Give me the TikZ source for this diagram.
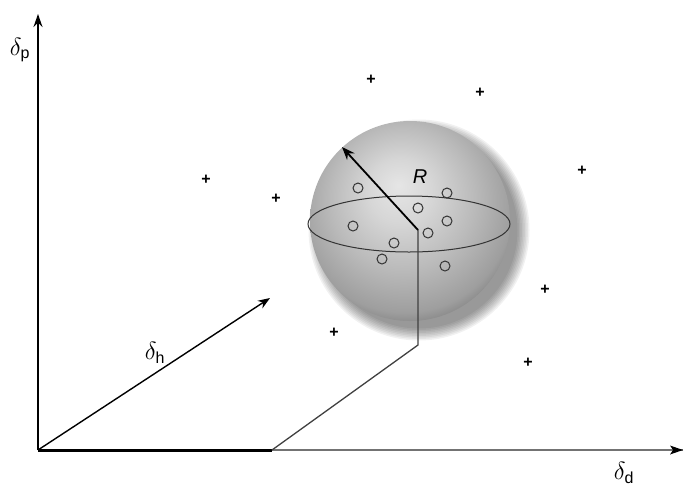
\documentclass[tikz,border=0pt]{standalone}
\usepackage{fontspec}
\usepackage{amsmath}
\newfontfamily\lsans{Liberation Sans}
\usetikzlibrary{arrows.meta}
\pgfdeclareradialshading{spherebw}{\pgfpoint{-3bp}{9bp}}{color(0bp)=(black!10); color(8bp)=(black!16); color(18bp)=(black!27); color(27bp)=(black!38); color(33bp)=(black!58); color(50bp)=(black!60)}
\tikzset{
  axis/.style={line width=1.5pt, -{Stealth[length=13pt,width=9pt]}},
  vecarrow/.style={line width=1.4pt, -{Stealth[length=12pt,width=9pt]}},
  guide/.style={line width=1.3pt, draw=black!75},
  pt/.style={circle, draw=black!80, line width=1pt, minimum size=10pt, inner sep=0pt},
  plus/.style={font=\lsans\bfseries\fontsize{16}{16}\selectfont, inner sep=0pt},
  lab/.style={font=\fontsize{24}{26}\selectfont, inner sep=0pt}
}
\newcommand{\subsf}[1]{\text{\lsans\fontsize{16}{16}\selectfont #1}}
\begin{document}
\begin{tikzpicture}[x=1pt,y=-1pt]
\useasboundingbox (0,0) rectangle (685,491);
\coordinate (O) at (38,450);
\coordinate (Ytop) at (38,14);
\coordinate (Xend) at (683,450);
\coordinate (Xmid) at (272,450);
\coordinate (Hend) at (270,298);
\coordinate (Knee) at (418,345);
\coordinate (C) at (418,230);
\coordinate (Rend) at (342,147);
% shadow
\foreach \i in {1,...,9}{
  \fill[black, opacity=0.055] (419,230) circle ({97+\i*1.5});
}
% sphere
\shade[shading=spherebw] (410,221) circle (100);
\node[draw=none, minimum size=0pt, inner sep=0pt] (S) at (409,224) {};
% equator
\draw[line width=1pt, draw=black!80] (S) ellipse (101 and 28);
% axes
\draw[axis] (O) -- (Ytop);
\draw[line width=2pt, draw=black!55] (Xmid) -- (Xend);
\draw[line width=3pt] (O) -- (Xmid);
\fill (Xend) -- ++(-13,-4.5) -- ++(3,4.5) -- ++(-3,4.5) -- cycle;
\draw[vecarrow] (O) -- (Hend);
\draw[guide] (Xmid) -- (Knee) -- (C);
\draw[line width=1.8pt, -{Stealth[length=13pt,width=10pt]}] (C) -- (Rend);
% labels
\node[lab] (lp) at (20,50) {$\delta_{\subsf{p}}$};
\node[lab] (lh) at (155,353) {$\delta_{\subsf{h}}$};
\node[lab] (ld) at (624,473) {$\delta_{\subsf{d}}$};
\node[font=\lsans\itshape\fontsize{20}{20}\selectfont, inner sep=0pt] (R) at (420,177) {R};
% points in sphere
\foreach \n/\x/\y in {a/358/188, b/447/193, c/418/208, d/353/226, e/447/221, f/428/233, g/394/243, h/382/259, i/445/266}{
  \node[pt] (p\n) at (\x,\y) {};
}
% plus signs
\foreach \n/\x/\y in {a/371/80, b/480/93, c/206/180, d/276/199, e/582/171, f/545/290, g/334/333, h/528/363}{
  \node[plus] (q\n) at (\x,\y) {+};
}
\end{tikzpicture}
\end{document}
